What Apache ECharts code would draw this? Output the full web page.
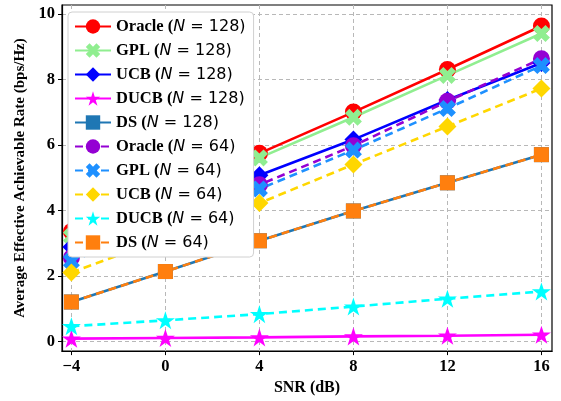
<!DOCTYPE html>
<html>
<head>
<meta charset="utf-8">
<script src="https://cdn.jsdelivr.net/npm/echarts@6/dist/echarts.min.js"></script>
<style>
  html, body { margin: 0; padding: 0; background: #fff; }
  #chart { width: 561px; height: 401px; }
</style>
</head>
<body>
<div id="chart"></div>
<script>
var snr = [-4, 0, 4, 8, 12, 16]
var xTicks = [-4, 0, 4, 8, 12, 16]
var yTicks = [0, 2, 4, 6, 8, 10]

var oracle128 = [3.35, 4.50, 5.74, 7.00, 8.30, 9.63]
var gpl128 = [3.20, 4.36, 5.60, 6.84, 8.12, 9.40]
var ucb128 = [2.88, 3.96, 5.07, 6.16, 7.37, 8.50]
var ducb128 = [0.08, 0.10, 0.12, 0.15, 0.17, 0.20]
var ds128 = [1.20, 2.13, 3.07, 3.98, 4.84, 5.70]
var oracle64 = [2.55, 3.66, 4.78, 5.97, 7.33, 8.63]
var gpl64 = [2.45, 3.55, 4.65, 5.84, 7.11, 8.42]
var ucb64 = [2.10, 3.16, 4.22, 5.40, 6.56, 7.72]
var ducb64 = [0.46, 0.64, 0.83, 1.06, 1.30, 1.52]
var ds64 = [1.20, 2.13, 3.07, 3.98, 4.84, 5.70]

var STAR = 'path://M50 0L61.2 34.5L97.6 34.5L68.2 55.9L79.4 90.5L50 69.1L20.6 90.5L31.8 55.9L2.4 34.5L38.8 34.5Z'
var XMARK = 'path://M0 2.6L2.6 0L5 2.4L7.4 0L10 2.6L7.6 5L10 7.4L7.4 10L5 7.6L2.6 10L0 7.4L2.4 5Z'
var DIAMOND = 'path://M5 0L10 5L5 10L0 5Z'

function mk(name, n, data, color, symbol, size, dashed) {
    return {
        name: name + ' (N = ' + n + ')',
        type: 'line',
        data: snr.map(function(x, i) { return [x, data[i]] }),
        symbol: symbol,
        symbolSize: size,
        symbolKeepAspect: true,
        showSymbol: true,
        itemStyle: { color: color },
        lineStyle: { color: color, width: 2.6, type: dashed ? [8, 5] : 'solid' },
        emphasis: { disabled: true },
        animation: false
    }
}

var series = [
    mk('Oracle', 128, oracle128, '#ff0000', 'circle', 17, false),
    mk('GPL', 128, gpl128, '#90ee90', XMARK, 17, false),
    mk('UCB', 128, ucb128, '#0000ff', DIAMOND, 18, false),
    mk('DUCB', 128, ducb128, '#ff00ff', STAR, 19, false),
    mk('DS', 128, ds128, '#1f77b4', 'rect', 15, false),
    mk('Oracle', 64, oracle64, '#9400d3', 'circle', 17, true),
    mk('GPL', 64, gpl64, '#1e90ff', XMARK, 17, true),
    mk('UCB', 64, ucb64, '#ffd700', DIAMOND, 18, true),
    mk('DUCB', 64, ducb64, '#00ffff', STAR, 19, true),
    mk('DS', 64, ds64, '#ff7f0e', 'rect', 15, true)
]

var chart = echarts.init(document.getElementById('chart'))
var serif = 'Liberation Serif'
chart.setOption({
    animation: false,
    grid: { left: 62, right: 9, top: 5, bottom: 48, show: true, borderColor: '#000', borderWidth: 1.2, backgroundColor: 'transparent' },
    legend: {
        left: 68, top: 12,
        orient: 'vertical',
        backgroundColor: '#fff',
        borderColor: '#d0d0d0',
        borderWidth: 1,
        borderRadius: 4,
        padding: [6, 8, 6, 6],
        itemWidth: 36,
        itemHeight: 18,
        itemGap: 7,
        formatter: function(name) {
            var m = name.match(/^(.*) \(N = (\d+)\)$/)
            return '{b|' + m[1] + ' (}{i|N}{r| = ' + m[2] + ')}'
        },
        textStyle: {
            rich: {
                b: { fontFamily: serif, fontWeight: 'bold', fontSize: 16.5, color: '#000', height: 18 },
                i: { fontFamily: 'DejaVu Sans', fontStyle: 'italic', fontSize: 16, color: '#000', height: 18 },
                r: { fontFamily: 'DejaVu Sans', fontSize: 16, color: '#000', height: 18 }
            }
        },
        data: series.map(function(s) { return s.name })
    },
    xAxis: {
        type: 'value',
        min: -4.4, max: 16.45,
        name: 'SNR (dB)',
        nameLocation: 'middle',
        nameGap: 25,
        nameTextStyle: { fontFamily: serif, fontWeight: 'bold', fontSize: 16, color: '#000' },
        axisLine: { show: true, onZero: false, lineStyle: { color: '#000', width: 1.2 } },
        axisTick: { show: true, length: 4, customValues: xTicks, lineStyle: { color: '#000' } },
        axisLabel: { customValues: xTicks, fontFamily: serif, fontWeight: 'bold', fontSize: 16.5, color: '#000', margin: 7,
            formatter: function(v) { return v < 0 ? '\u2212' + (-v) : '' + v } },
        splitLine: { show: true, lineStyle: { color: '#b8b8b8', type: [4, 3], width: 1 } }
    },
    yAxis: {
        type: 'value',
        min: -0.3, max: 10.27,
        name: 'Average Effective Achievable Rate (bps/Hz)',
        nameLocation: 'middle',
        nameGap: 26,
        nameTextStyle: { fontFamily: serif, fontWeight: 'bold', fontSize: 15, color: '#000' },
        axisLine: { show: true, onZero: false, lineStyle: { color: '#000', width: 1.2 } },
        axisTick: { show: true, length: 4, customValues: yTicks, lineStyle: { color: '#000' } },
        axisLabel: { customValues: yTicks, fontFamily: serif, fontWeight: 'bold', fontSize: 16.5, color: '#000', margin: 7 },
        splitLine: { show: true, lineStyle: { color: '#b8b8b8', type: [4, 3], width: 1 } }
    },
    series: series
})
</script>
</body>
</html>
